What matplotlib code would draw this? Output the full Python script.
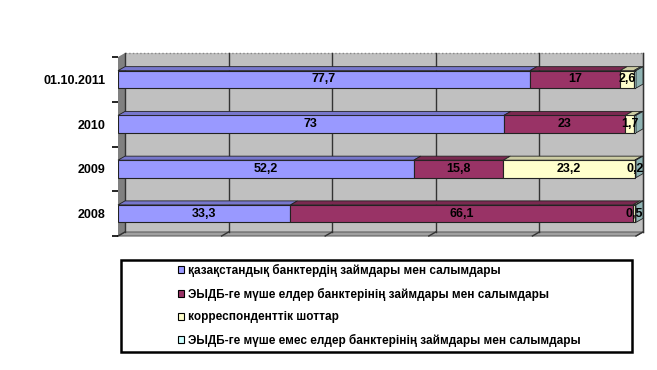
import numpy as np
import matplotlib
matplotlib.use('Agg')
import matplotlib.pyplot as plt
from matplotlib.patches import Polygon, Rectangle, Patch
from matplotlib.transforms import IdentityTransform
from matplotlib.lines import Line2D

plt.rcParams['font.family'] = ['Liberation Sans', 'DejaVu Sans']

# data (per period: four kinds of funding, shown as 100% stacked)
periods = ['2008', '2009', '2010', '01.10.2011']
kaz_banks = [33.3, 52.2, 73, 77.7]
oecd_banks = [66.1, 15.8, 23, 17]
corr_accounts = [0.5, 23.2, 1.7, 2.6]
non_oecd_banks = [0.1, 0.2, 0.3, 0.4]
series_names = ['қазақстандық банктердің займдары мен салымдары',
                'ЭЫДБ-ге мүше елдер банктерінің займдары мен салымдары',
                'корреспонденттік шоттар',
                'ЭЫДБ-ге мүше емес елдер банктерінің займдары мен салымдары']
# which labels are visible in the original (others are hidden behind neighbours)
show_label = [[True, True, True, False],
              [True, True, True, True],
              [True, True, True, False],
              [True, True, True, False]]

colors = ['#9999FF', '#993366', '#FFFFCC', '#CCFFFF']
top_colors = ['#7777CC', '#7A2950', '#CCCCA3', '#A3CCCC']
side_colors = ['#6B6BB3', '#6B2447', '#B3B38F', '#8FB3B3']

W, H = 657, 370
fig = plt.figure(figsize=(W / 100, H / 100), dpi=100)
ax = fig.add_axes([118 / W, (H - 236) / H, 518 / W, 179 / H])
ax.set_xlim(0, 100)
ax.set_ylim(-0.5, 3.5)
ax.patch.set_visible(False)
for s in ax.spines.values():
    s.set_visible(False)

dx, dy = 7, 4
idt = IdentityTransform()
(x0, y0), (x1, y1) = ax.transData.transform([(0, -0.5), (100, 3.5)])

# walls and floor
ax.add_patch(Rectangle((x0 + dx, y0 + dy), x1 - x0, y1 - y0, transform=idt,
                       facecolor='#C0C0C0', edgecolor='none', zorder=0, clip_on=False))
ax.add_line(Line2D([x0 + dx, x1 + dx], [y1 + dy, y1 + dy], transform=idt, color='#888888',
                   lw=1, ls=':', zorder=1, clip_on=False))
ax.add_line(Line2D([x1 + dx, x1 + dx], [y0 + dy, y1 + dy], transform=idt, color='#888888',
                   lw=1, zorder=1, clip_on=False))
ax.add_patch(Polygon([(x0, y0), (x0 + dx, y0 + dy), (x0 + dx, y1 + dy), (x0, y1)],
                     transform=idt, facecolor='#808080', edgecolor='none', zorder=0, clip_on=False))
ax.add_patch(Polygon([(x0, y0), (x1, y0), (x1 + dx, y0 + dy), (x0 + dx, y0 + dy)],
                     transform=idt, facecolor='#A0A0A0', edgecolor='#606060', lw=0.8,
                     zorder=0, clip_on=False))

for g in range(0, 101, 20):
    gx = ax.transData.transform((g, 0))[0]
    ax.add_line(Line2D([gx + dx, gx + dx], [y0 + dy, y1 + dy], transform=idt, color='#333333',
                       lw=1, zorder=1, clip_on=False))
    ax.add_line(Line2D([gx, gx + dx], [y0, y0 + dy], transform=idt, color='#333333',
                       lw=1, zorder=1, clip_on=False))

# stacked bars
data = np.array([kaz_banks, oecd_banks, corr_accounts, non_oecd_banks], dtype=float)
pct = data / data.sum(axis=0) * 100
ypos = np.arange(len(periods))
bh = 0.39
left = np.zeros(len(periods))
for i in range(4):
    ax.barh(ypos, pct[i], left=left, height=bh, color=colors[i], edgecolor='#222222',
            lw=0.8, zorder=3)
    for j in range(len(periods)):
        a = ax.transData.transform((left[j], ypos[j] + bh / 2))
        b = ax.transData.transform((left[j] + pct[i][j], ypos[j] + bh / 2))
        ax.add_patch(Polygon([a, b, (b[0] + dx, b[1] + dy), (a[0] + dx, a[1] + dy)],
                             transform=idt, facecolor=top_colors[i], edgecolor='#222222',
                             lw=0.6, zorder=3, clip_on=False))
        if i == 3:
            c = ax.transData.transform((left[j] + pct[i][j], ypos[j] - bh / 2))
            ax.add_patch(Polygon([c, b, (b[0] + dx, b[1] + dy), (c[0] + dx, c[1] + dy)],
                                 transform=idt, facecolor=side_colors[i], edgecolor='#222222',
                                 lw=0.6, zorder=3, clip_on=False))
        if show_label[j][i]:
            ax.text(left[j] + pct[i][j] / 2, ypos[j], str(data[i][j]).rstrip('0').rstrip('.').replace('.', ','),
                    ha='center', va='center', fontsize=9, fontweight='bold', zorder=5)
    left = left + pct[i]

# axis ticks
ax.set_xticks([])
ax.set_yticks(np.arange(-0.5, 3.6, 1))
ax.set_yticklabels([])
ax.tick_params(axis='y', which='major', length=4, width=1.2, direction='out')
ax.set_yticks(ypos, minor=True)
ax.set_yticklabels(periods, minor=True, fontsize=9, fontweight='bold')
ax.tick_params(axis='y', which='minor', length=0, pad=9)

# legend
fig.add_artist(Rectangle((121, 18), 511, 92, transform=idt, facecolor='white',
                         edgecolor='black', lw=1.8))
handles = [Patch(facecolor=c, edgecolor='black', lw=0.8) for c in colors]
leg = fig.legend(handles, series_names, loc='upper left', bbox_to_anchor=(178 / W, (H - 264) / H),
                 frameon=False, prop={'weight': 'bold', 'size': 8.5},
                 handlelength=0.55, handleheight=0.55, handletextpad=0.3, labelspacing=0.9,
                 borderaxespad=0, borderpad=0)

fig.savefig('out.png', dpi=100)
